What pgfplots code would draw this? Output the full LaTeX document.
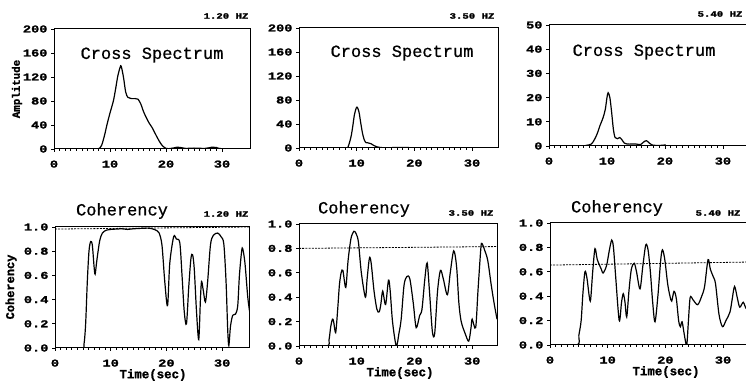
\documentclass[border=0pt]{standalone}
\usepackage{fontspec}
\usepackage{pgfplots}
\pgfplotsset{compat=1.18}
\setmainfont{Liberation Mono}
\newfontfamily\tickf{Liberation Mono}[FakeStretch=1.3, FakeBold=1.6]
\newfontfamily\labf{Liberation Mono}[FakeBold=1.4]
\newfontfamily\ttlf{Liberation Mono}[FakeBold=0.7]
\newcommand{\tk}{\tickf\bfseries\fontsize{10.5}{12}\selectfont}
\newcommand{\hz}{\tickf\bfseries\fontsize{8.2}{9}\selectfont}
\newcommand{\ttl}{\ttlf\fontsize{17}{20}\selectfont}
\pgfplotsset{
  panel/.style={scale only axis, xmin=0, xtick={0,10,20,30}, xticklabels={0,10,20,30},
    minor x tick num=9, tick align=outside, major tick length=3pt, minor tick length=1.8pt,
    tick pos=left, axis line style={line width=1pt},
    every tick/.style={line width=0.7pt, black},
    ticklabel style={font=\tk}, /pgf/number format/assume math mode=true,
    xticklabel style={yshift=-5pt}},
  coh/.style={panel, ymin=0, ymax=1, ytick={0,0.2,0.4,0.6,0.8,1.0},
    yticklabels={0.0,0.2,0.4,0.6,0.8,1.0}},
  cur/.style={black, line width=1.2pt, mark=none, smooth, tension=0.5},
  dsh/.style={black, line width=0.8pt, mark=none, dash pattern=on 2pt off 1.2pt}
}
\begin{document}
\begin{tikzpicture}[x=1pt,y=1pt]
\path[use as bounding box] (0,0) rectangle (746,382);
% ---------- top row ----------
\begin{axis}[panel, at={(54pt,233pt)}, anchor=south west, width=196pt, height=120pt,
  xmax=35, ymin=0, ymax=200, ytick={0,40,80,120,160,200}]
\addplot[cur] coordinates {(0,0) (7.5,0) (8.0,0.5) (8.5,6) (9.0,22) (9.5,42) (10.0,60) (10.6,80) (11.0,100) (11.4,122) (11.8,136) (12.0,138) (12.4,120) (12.8,95) (13.2,86) (13.8,84) (14.5,84) (15.0,83) (15.5,75) (16.0,62) (16.5,52) (17.0,43) (17.5,36) (18.0,27) (18.5,18) (19.0,10) (19.5,4) (20.0,1) (20.5,0.5) (21.5,2) (22.0,3) (22.6,2.5) (23.5,1) (25,1.5) (27,1) (28.2,3) (29,2.5) (30,0.5) (35,0.3)};
\end{axis}
\begin{axis}[panel, at={(299pt,234pt)}, anchor=south west, width=199pt, height=120pt,
  xmax=34.5, ymin=0, ymax=200, ytick={0,40,80,120,160,200}]
\addplot[cur] coordinates {(0,0) (8.0,0) (8.5,2) (9.0,18) (9.3,35) (9.6,55) (9.9,66) (10.1,68) (10.4,60) (10.7,42) (11.0,25) (11.3,14) (11.6,9) (12.0,8.5) (12.5,7) (13.0,4) (13.5,2) (14.0,1) (15,0.5) (18.5,1) (20,0.3) (34.5,0)};
\end{axis}
\begin{axis}[panel, at={(549pt,236pt)}, anchor=south west, width=200pt, height=121pt,
  xmax=34.5, ymin=0, ymax=50, ytick={0,10,20,30,40,50}]
\addplot[cur] coordinates {(0,0) (5.5,0) (6.5,0.3) (7.3,0.8) (7.8,2.5) (8.3,5) (8.8,8.5) (9.3,11.5) (9.7,15) (10.0,20) (10.2,22) (10.5,20) (10.8,14) (11.1,7) (11.4,3.5) (11.8,3) (12.2,3.5) (12.6,2.5) (13.0,1.2) (13.5,0.8) (15.0,0.8) (15.8,0.6) (16.3,1.6) (16.8,2.2) (17.3,1.2) (17.8,0.4) (19,0.2) (20,0.4) (21,0) (34.5,0)};
\end{axis}
% ---------- bottom row ----------
\begin{axis}[coh, at={(55pt,34pt)}, anchor=south west, width=195pt, height=121pt, xmax=35]
\addplot[dsh] coordinates {(0,0.983) (35,1.0)};
\addplot[cur] coordinates {(0,0) (4.8,0) (5.2,0.03) (5.5,0.2) (5.8,0.55) (6.1,0.8) (6.4,0.88) (6.7,0.85) (7.0,0.68) (7.2,0.61) (7.5,0.72) (8.0,0.88) (8.5,0.95) (9.3,0.975) (10,0.98) (12,0.985) (13,0.98) (14,0.985) (16,0.99) (17,0.99) (17.8,0.98) (18.3,0.97) (18.7,0.95) (19.2,0.85) (19.7,0.55) (20.2,0.35) (20.6,0.7) (21.3,0.92) (21.8,0.9) (22.4,0.87) (22.8,0.6) (23.2,0.3) (23.6,0.2) (24.0,0.5) (24.4,0.74) (24.7,0.77) (25.0,0.65) (25.4,0.3) (25.8,0.07) (26.1,0.4) (26.3,0.55) (26.6,0.48) (27.0,0.38) (27.4,0.55) (27.9,0.85) (28.4,0.93) (29.2,0.95) (29.8,0.92) (30.3,0.86) (30.7,0.55) (31.0,0.15) (31.2,0.02) (31.5,0.18) (31.9,0.27) (32.4,0.28) (32.8,0.35) (33.1,0.6) (33.5,0.8) (33.7,0.82) (34.1,0.7) (34.6,0.42) (35,0.28)};
\end{axis}
\begin{axis}[coh, at={(299pt,36pt)}, anchor=south west, width=198pt, height=122pt, xmax=34.3]
\addplot[dsh] coordinates {(0,0.80) (34.3,0.815)};
\addplot[cur] coordinates {(0,0) (4.8,0) (5.2,0.05) (5.5,0.16) (5.8,0.22) (6.0,0.2) (6.35,0.11) (6.7,0.3) (7.0,0.5) (7.3,0.6) (7.6,0.62) (8.1,0.48) (8.5,0.7) (9.0,0.88) (9.5,0.94) (9.9,0.92) (10.3,0.85) (10.8,0.6) (11.5,0.4) (11.8,0.55) (12.2,0.72) (12.5,0.68) (13.0,0.45) (13.5,0.3) (13.9,0.28) (14.2,0.35) (14.5,0.45) (15.0,0.34) (15.5,0.54) (15.8,0.45) (16.2,0.2) (16.85,0.0) (17.3,0.1) (17.7,0.22) (18.2,0.5) (18.7,0.57) (19.2,0.55) (19.8,0.35) (20.3,0.15) (20.9,0.25) (21.3,0.3) (21.8,0.55) (22.2,0.68) (22.6,0.45) (23.1,0.12) (23.5,0.1) (24.0,0.45) (24.5,0.62) (25.0,0.55) (25.7,0.42) (26.2,0.6) (26.8,0.78) (27.3,0.65) (27.7,0.35) (28.1,0.2) (28.8,0.1) (29.4,0.04) (29.8,0.15) (30.0,0.22) (30.6,0.15) (31.0,0.45) (31.5,0.8) (31.7,0.84) (32.2,0.78) (32.7,0.7) (33.3,0.5) (33.8,0.35) (34.3,0.22)};
\end{axis}
\begin{axis}[coh, at={(550pt,37pt)}, anchor=south west, width=199pt, height=122pt, xmax=34.5]
\addplot[dsh] coordinates {(0,0.655) (34.5,0.68)};
\addplot[cur] coordinates {(0,0) (4.7,0) (5.0,0.08) (5.4,0.2) (5.7,0.42) (6.06,0.6) (6.4,0.55) (6.8,0.4) (7.04,0.37) (7.4,0.6) (7.8,0.79) (8.2,0.7) (8.9,0.62) (9.2,0.59) (9.8,0.65) (10.3,0.78) (10.7,0.86) (11.0,0.8) (11.4,0.55) (12.0,0.2) (12.4,0.35) (12.7,0.42) (13.0,0.35) (13.3,0.23) (13.7,0.45) (14.1,0.62) (14.6,0.67) (15.0,0.6) (15.6,0.46) (16.1,0.65) (16.6,0.82) (17.0,0.78) (17.4,0.6) (17.8,0.35) (18.2,0.19) (18.7,0.4) (19.2,0.7) (19.5,0.78) (19.9,0.7) (20.4,0.5) (20.8,0.4) (21.1,0.36) (21.5,0.44) (21.9,0.38) (22.3,0.2) (22.6,0.15) (22.9,0.19) (23.3,0.08) (23.7,0.0) (24.0,0.2) (24.3,0.39) (24.8,0.37) (25.6,0.33) (26.3,0.4) (26.8,0.48) (27.4,0.7) (27.8,0.62) (28.3,0.56) (28.7,0.5) (29.3,0.25) (29.9,0.15) (30.5,0.2) (31.2,0.27) (31.6,0.38) (32.0,0.48) (32.5,0.38) (32.9,0.31) (33.5,0.35) (34.0,0.3) (34.5,0.33)};
\end{axis}
% ---------- texts ----------
\node[font=\ttl] at (152,327) {Cross Spectrum};
\node[font=\ttl] at (402,329) {Cross Spectrum};
\node[font=\ttl] at (644,330) {Cross Spectrum};
\node[font=\ttl] at (122,171) {Coherency};
\node[font=\ttl] at (364,173) {Coherency};
\node[font=\ttl] at (617,174) {Coherency};
\node[font=\hz] at (226,366) {1.20 HZ};
\node[font=\hz] at (472,366) {3.50 HZ};
\node[font=\hz] at (720,368) {5.40 HZ};
\node[font=\hz] at (226,168) {1.20 HZ};
\node[font=\hz] at (471,169) {3.50 HZ};
\node[font=\hz] at (718,169) {5.40 HZ};
\node[font=\labf\bfseries\fontsize{10.8}{12}\selectfont, rotate=90] at (17,293) {Amplitude};
\node[font=\labf\bfseries\fontsize{12}{14}\selectfont, rotate=90] at (11,95) {Coherency};
\node[font=\labf\bfseries\fontsize{12.4}{14}\selectfont] at (153,7) {Time(sec)};
\node[font=\labf\bfseries\fontsize{12.4}{14}\selectfont] at (400,9) {Time(sec)};
\node[font=\labf\bfseries\fontsize{12.4}{14}\selectfont] at (666,10) {Time(sec)};
\end{tikzpicture}
\end{document}
